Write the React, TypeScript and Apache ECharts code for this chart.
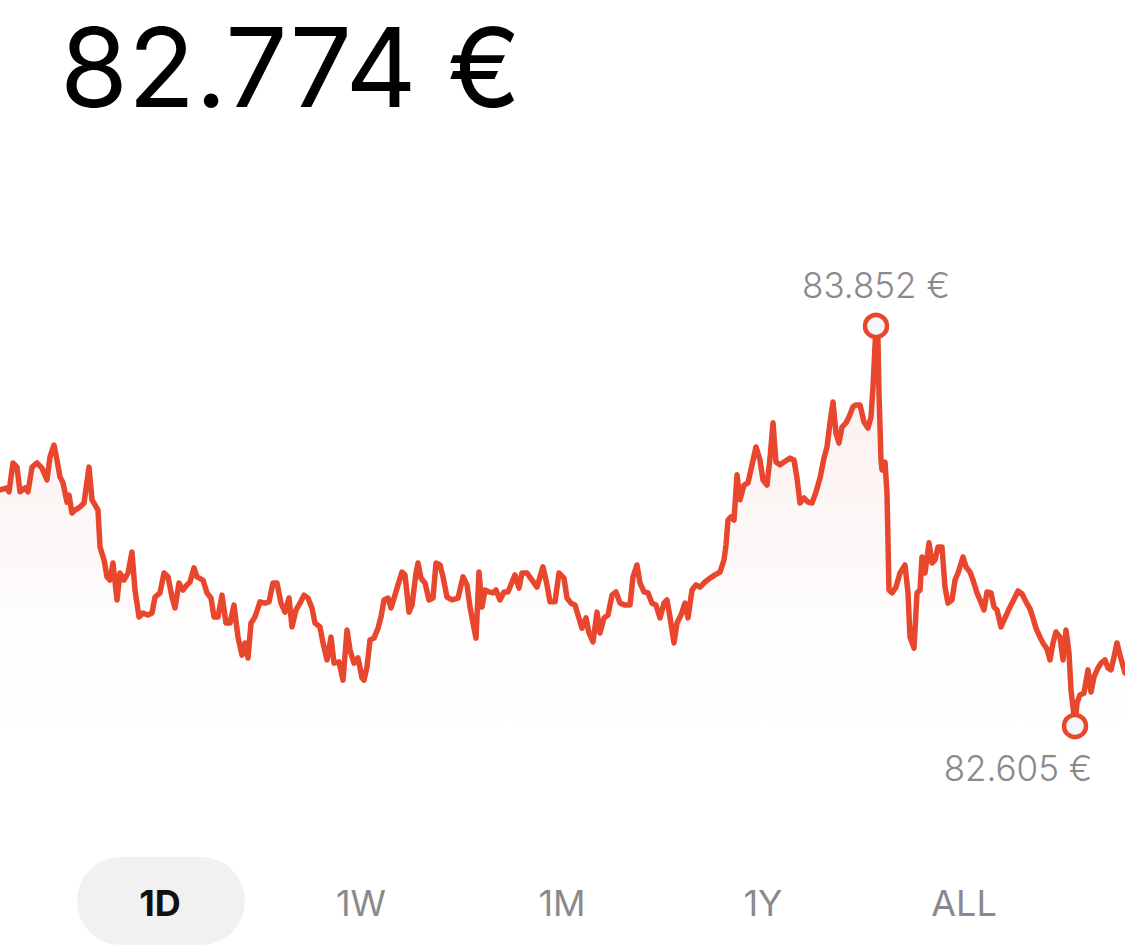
import React, { useEffect, useRef } from "react";
import * as echarts from "echarts";

// Intraday time steps (x) and prices (€)
const times = [
  0, 7, 9, 13, 17, 20, 25, 28, 32, 37, 42, 47, 50, 54, 57, 60, 63, 67, 69, 72,
  75, 80, 84, 89, 92, 95, 98, 100, 104, 107, 110, 113, 117, 120, 124, 128, 132, 135, 139, 143,
  148, 152, 155, 160, 164, 168, 172, 175, 179, 183, 187, 190, 194, 197, 203, 207, 211, 214, 218, 222,
  226, 230, 234, 238, 242, 245, 248, 251, 255, 260, 265, 269, 273, 277, 281, 285, 289, 292, 296, 300,
  304, 308, 312, 315, 320, 323, 327, 331, 334, 339, 343, 347, 350, 354, 358, 362, 364, 367, 370, 374,
  378, 381, 384, 388, 391, 395, 398, 402, 405, 409, 412, 416, 418, 421, 425, 429, 433, 436, 440, 443,
  447, 452, 458, 463, 467, 470, 473, 476, 479, 482, 485, 489, 493, 496, 500, 504, 508, 512, 515, 519,
  522, 527, 532, 537, 543, 547, 550, 555, 559, 564, 567, 571, 575, 578, 582, 586, 589, 593, 597, 600,
  604, 608, 612, 616, 620, 625, 630, 633, 637, 640, 644, 648, 652, 656, 660, 664, 667, 670, 674, 677,
  681, 685, 688, 692, 696, 700, 705, 710, 715, 720, 724, 726, 728, 731, 734, 737, 740, 744, 748, 752,
  756, 760, 763, 767, 770, 773, 776, 780, 784, 790, 794, 797, 800, 804, 808, 812, 816, 820, 824, 827,
  830, 833, 836, 839, 842, 846, 849, 853, 856, 860, 864, 868, 871, 873, 876, 878, 879, 881, 882, 885,
  887, 889, 892, 896, 900, 905, 908, 910, 914, 917, 920, 922, 925, 929, 932, 935, 938, 942, 945, 948,
  952, 955, 958, 963, 966, 970, 973, 977, 980, 984, 987, 991, 994, 997, 1001, 1005, 1010, 1014, 1018, 1022,
  1026, 1030, 1033, 1036, 1040, 1043, 1047, 1050, 1053, 1056, 1060, 1063, 1066, 1069, 1071, 1073, 1075, 1077, 1080, 1084,
  1088, 1091, 1094, 1098, 1101, 1105, 1108, 1111, 1114, 1117, 1120, 1125,
];

const prices = [
  83.341, 83.347, 83.335, 83.425, 83.412, 83.335, 83.347, 83.335, 83.412, 83.425, 83.409, 83.372, 83.444, 83.481, 83.434, 83.381, 83.363, 83.303, 83.325, 83.269,
  83.278, 83.288, 83.300, 83.412, 83.310, 83.294, 83.278, 83.163, 83.123, 83.070, 83.060, 83.113, 82.998, 83.082, 83.060, 83.082, 83.147, 83.029, 82.945, 82.957,
  82.951, 82.957, 83.007, 83.020, 83.082, 83.070, 83.007, 82.973, 83.051, 83.029, 83.045, 83.054, 83.098, 83.070, 83.060, 83.020, 83.004, 82.945, 82.945, 83.013,
  82.926, 82.926, 82.982, 82.882, 82.826, 82.864, 82.817, 82.926, 82.945, 82.992, 82.988, 82.992, 83.051, 83.051, 82.988, 82.960, 83.004, 82.914, 82.967, 82.988,
  83.013, 83.004, 82.973, 82.926, 82.914, 82.864, 82.811, 82.882, 82.801, 82.805, 82.748, 82.904, 82.842, 82.801, 82.817, 82.755, 82.748, 82.789, 82.873, 82.879,
  82.910, 82.945, 82.998, 83.004, 82.973, 83.013, 83.045, 83.085, 83.076, 82.960, 82.982, 83.082, 83.113, 83.066, 83.051, 82.998, 83.004, 83.113, 83.107, 83.070,
  83.007, 82.998, 83.004, 83.070, 83.045, 82.976, 82.926, 82.879, 83.085, 82.976, 83.029, 83.023, 83.020, 83.029, 82.998, 83.023, 83.023, 83.054, 83.076, 83.035,
  83.082, 83.082, 83.060, 83.038, 83.101, 83.045, 82.992, 82.992, 83.082, 83.066, 83.004, 82.988, 82.982, 82.951, 82.910, 82.942, 82.895, 82.867, 82.960, 82.895,
  82.942, 82.951, 83.013, 83.023, 82.988, 82.982, 82.982, 83.070, 83.107, 83.051, 83.023, 83.020, 82.988, 82.982, 82.942, 82.988, 82.998, 82.945, 82.864, 82.926,
  82.951, 82.988, 82.942, 83.029, 83.045, 83.038, 83.054, 83.066, 83.076, 83.085, 83.123, 83.169, 83.247, 83.257, 83.247, 83.388, 83.310, 83.356, 83.363, 83.419,
  83.475, 83.434, 83.372, 83.356, 83.440, 83.550, 83.428, 83.419, 83.428, 83.440, 83.434, 83.378, 83.300, 83.316, 83.303, 83.300, 83.335, 83.378, 83.440, 83.475,
  83.550, 83.615, 83.518, 83.487, 83.537, 83.550, 83.568, 83.600, 83.606, 83.606, 83.553, 83.534, 83.568, 83.662, 83.852, 83.808, 83.643, 83.434, 83.403, 83.428,
  83.331, 83.029, 83.020, 83.038, 83.082, 83.107, 83.020, 82.882, 82.848, 83.020, 83.029, 83.132, 83.082, 83.176, 83.113, 83.123, 83.163, 83.163, 83.038, 82.988,
  82.998, 83.060, 83.082, 83.132, 83.101, 83.085, 83.060, 83.020, 82.998, 82.967, 83.023, 83.020, 82.976, 82.967, 82.914, 82.942, 82.976, 83.000, 83.026, 83.017,
  82.992, 82.970, 82.942, 82.910, 82.882, 82.864, 82.845, 82.811, 82.864, 82.898, 82.882, 82.811, 82.904, 82.833, 82.717, 82.664, 82.605, 82.677, 82.702, 82.708,
  82.780, 82.711, 82.758, 82.786, 82.801, 82.811, 82.786, 82.780, 82.820, 82.864, 82.826, 82.770,
];

const currentPrice = 82.774;
const rangeLabels = ["1D", "1W", "1M", "1Y", "ALL"];
const activeRange = "1D";

const LINE = "#e8472e";
const GREY = "#8a8a8e";

export default function App() {
  const ref = useRef<HTMLDivElement>(null);

  useEffect(() => {
    const chart = echarts.init(ref.current!, null, { renderer: "svg" });
    const fmt = (v: number) => v.toFixed(3) + " €";
    const rangeCenters = [160, 361, 562, 763, 964];

    chart.setOption({
      animation: false,
      backgroundColor: "#ffffff",
      grid: { left: 0, right: 0, top: 278.5, height: 481.2 },
      xAxis: { type: "value", min: 0, max: 1125, show: false },
      yAxis: {
        type: "value",
        min: 82.5,
        max: 84.0,
        show: false,
        splitLine: { show: false },
      },
      series: [
        {
          type: "line",
          data: times.map((t, i) => [t, prices[i]]),
          showSymbol: false,
          symbol: "none",
          lineStyle: { color: LINE, width: 5.5, join: "round", cap: "round" },
          areaStyle: {
            color: new echarts.graphic.LinearGradient(0, 0, 0, 1, [
              { offset: 0, color: "rgba(220,110,100,0.2)" },
              { offset: 0.5, color: "rgba(220,140,135,0.09)" },
              { offset: 1, color: "rgba(255,255,255,0)" },
            ]),
          },
          markPoint: {
            symbol: "circle",
            symbolSize: 22,
            itemStyle: { color: "#f6f6f6", borderColor: LINE, borderWidth: 4.5 },
            label: {
              show: true,
              color: GREY,
              fontFamily: "Inter",
              fontWeight: 300,
              fontSize: 35,
              formatter: (p: any) => fmt(p.value),
            },
            data: [
              { type: "max", label: { position: "top", distance: 10 } },
              { type: "min", label: { position: "bottom", distance: 11, offset: [-57, 0] } },
            ],
          },
        },
      ],
      graphic: [
        {
          type: "text",
          x: 60,
          y: 67,
          style: {
            text: currentPrice.toFixed(3) + " €",
            font: "400 110px Inter",
            fill: "#000000",
            textAlign: "left",
            textVerticalAlign: "middle",
          },
        },
        {
          type: "rect",
          shape: { x: 77, y: 857, width: 168, height: 88, r: 44 },
          style: { fill: "#f1f1f1" },
        },
        ...rangeLabels.map((lab, i) => ({
          type: "text",
          x: rangeCenters[i],
          y: 903,
          style: {
            text: lab,
            font: (lab === activeRange ? "700 " : "400 ") + "36px Inter",
            fill: lab === activeRange ? "#111111" : GREY,
            textAlign: "center",
            textVerticalAlign: "middle",
          },
        })),
      ],
    });
    return () => chart.dispose();
  }, []);

  return (
    <div
      ref={ref}
      style={{ position: "absolute", left: 0, top: 0, width: 1125, height: 945, background: "#fff" }}
    />
  );
}
